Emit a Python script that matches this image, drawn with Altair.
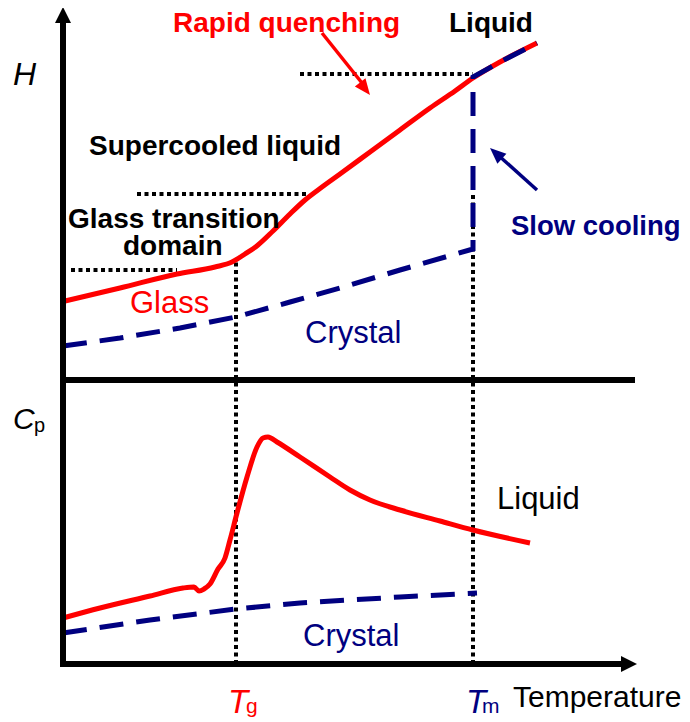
import altair as alt
import pandas as pd

RED = "#ff0000"
NAVY = "#000080"
FONT = "Liberation Sans"

# ---------------- data (arbitrary units: T = temperature, V = H or Cp) ----------------
# Enthalpy panel
h_glass_T = [2, 57, 114, 152, 169, 182, 195, 210, 227, 242, 259, 277, 307, 337, 367, 392, 410, 437, 474]
h_glass_V = [363, 376, 390, 397, 402, 410, 419, 433, 450, 464, 477, 490, 512, 534, 556, 573, 586, 602, 621]
h_cryst_T = [0, 57, 117, 173, 227, 277, 337, 410, 410, 437, 474]
h_cryst_V = [318, 326, 336, 347, 362, 376, 394, 415, 587, 602, 621]

# Heat capacity panel
cp_glass_T = [0, 37, 87, 120, 131, 136, 141, 147, 155, 162, 167, 174, 184, 194, 200, 205, 214,
              237, 267, 287, 307, 337, 377, 410, 467]
cp_glass_V = [46, 56, 68, 76, 77, 73, 75, 80, 95, 106, 124, 151, 187, 217, 226, 227, 222,
              207, 187, 174, 164, 154, 143, 134, 121]
cp_cryst_T = [0, 87, 173, 237, 337, 414]
cp_cryst_V = [31, 44, 55, 61, 67, 71]

Tg, Tm = 173, 410
H_Tm = 590
H_super = 470
H_glass = 394
PANEL_SPLIT = 284

# dotted guide lines: (T, V, T2, V2)
guides = pd.DataFrame({
    "T":  [Tg, Tm, 237, 74, 8],
    "V":  [0, 0, H_Tm, H_super, H_glass],
    "T2": [Tg, Tm, Tm, 245, 114],
    "V2": [402, 471, H_Tm, H_super, H_glass],
})

# axes lines
axes_df = pd.DataFrame({
    "T":  [0, -3, 0],
    "V":  [-3, 0, PANEL_SPLIT],
    "T2": [0, 559, 572],
    "V2": [642, 0, PANEL_SPLIT],
})

# annotation arrows: shaft (from -> to) and tip
arrow_shafts = pd.DataFrame({
    "T": [259, 474], "V": [631, 474], "T2": [299, 435], "V2": [581, 509],
    "color": [RED, NAVY],
})
arrow_tips = pd.DataFrame({"T": [307, 427], "V": [569, 516], "angle": [142, 312],
                           "color": [RED, NAVY]})
axis_tips = pd.DataFrame({"T": [0, 574], "V": [657, 0], "angle": [0, 90]})

# texts: label, T (left), V (baseline), colour, size
bold_txt = pd.DataFrame({
    "label": ["Rapid quenching", "Liquid", "Supercooled liquid", "Glass transition", "domain", "Slow cooling"],
    "T": [110, 386, 26, 5, 60, 448],
    "V": [632, 632, 509, 436, 409, 429],
    "color": [RED, "black", "black", "black", "black", NAVY],
    "size": [28, 28, 28, 28, 28, 27.5],
})
normal_txt = pd.DataFrame({
    "label": ["Glass", "Crystal", "Liquid", "Crystal", "Temperature", "p", "g", "m"],
    "T": [67, 242, 434, 240, 450, -29, 183, 419],
    "V": [351, 321, 155, 18, -43, 232, -49, -49],
    "color": [RED, NAVY, "black", NAVY, "black", "black", RED, NAVY],
    "size": [31, 31, 31, 31, 30, 20, 21, 21],
})
italic_txt = pd.DataFrame({
    "label": ["H", "C", "T", "T"],
    "T": [-50, -50, 165, 403],
    "V": [579, 235, -49, -49],
    "color": ["black", "black", RED, NAVY],
    "size": [32, 30, 33, 33],
})

# ---------------- chart ----------------
xs = alt.Scale(domain=[-55, 619], nice=False, zero=False)
ys = alt.Scale(domain=[-58, 656], nice=False, zero=False)
X = alt.X("T:Q", scale=xs, axis=None)
Y = alt.Y("V:Q", scale=ys, axis=None)


def line_df(T, V):
    return pd.DataFrame({"T": T, "V": V, "i": list(range(len(T)))})


def rules(df, **kw):
    return alt.Chart(df).mark_rule(**kw).encode(
        x=X, y=Y, x2="T2:Q", y2="V2:Q")


dotted = rules(guides, color="black", strokeWidth=4, strokeDash=[4, 3.5])
axes = rules(axes_df, color="black", strokeWidth=6)

h_red = alt.Chart(line_df(h_glass_T, h_glass_V)).mark_line(
    color=RED, strokeWidth=5, interpolate="monotone").encode(x=X, y=Y, order="i:Q")
h_navy = alt.Chart(line_df(h_cryst_T, h_cryst_V)).mark_line(
    color=NAVY, strokeWidth=5, strokeDash=[24, 13]).encode(x=X, y=Y, order="i:Q")
cp_red = alt.Chart(line_df(cp_glass_T, cp_glass_V)).mark_line(
    color=RED, strokeWidth=5, interpolate="monotone").encode(x=X, y=Y, order="i:Q")
cp_navy = alt.Chart(line_df(cp_cryst_T, cp_cryst_V)).mark_line(
    color=NAVY, strokeWidth=5, strokeDash=[24, 13]).encode(x=X, y=Y, order="i:Q")

shafts = alt.Chart(arrow_shafts).mark_rule(strokeWidth=3.5).encode(
    x=X, y=Y, x2="T2:Q", y2="V2:Q", color=alt.Color("color:N", scale=None))
tips = alt.Chart(arrow_tips).mark_point(
    shape="M0,0L-0.42,1L0.42,1Z", filled=True, opacity=1, size=1024, strokeWidth=0
).encode(x=X, y=Y, angle=alt.Angle("angle:Q", scale=None),
         color=alt.Color("color:N", scale=None))
ax_tips = alt.Chart(axis_tips).mark_point(
    shape="M0,0L-0.5,1L0.5,1Z", filled=True, opacity=1, size=1024, strokeWidth=0,
    color="black").encode(x=X, y=Y, angle=alt.Angle("angle:Q", scale=None))


def texts(df, **kw):
    return alt.Chart(df).mark_text(align="left", baseline="alphabetic", font=FONT, **kw).encode(
        x=X, y=Y, text="label:N",
        color=alt.Color("color:N", scale=None),
        size=alt.Size("size:Q", scale=None))


chart = alt.layer(
    dotted, h_red, h_navy, cp_red, cp_navy, axes, ax_tips, shafts, tips,
    texts(bold_txt, fontWeight="bold"),
    texts(normal_txt),
    texts(italic_txt, fontStyle="italic"),
).properties(
    width=674, height=714, padding=0, autosize="none"
).configure_view(stroke=None)

chart.save("out.html", embed_options={"renderer": "svg", "actions": False})
